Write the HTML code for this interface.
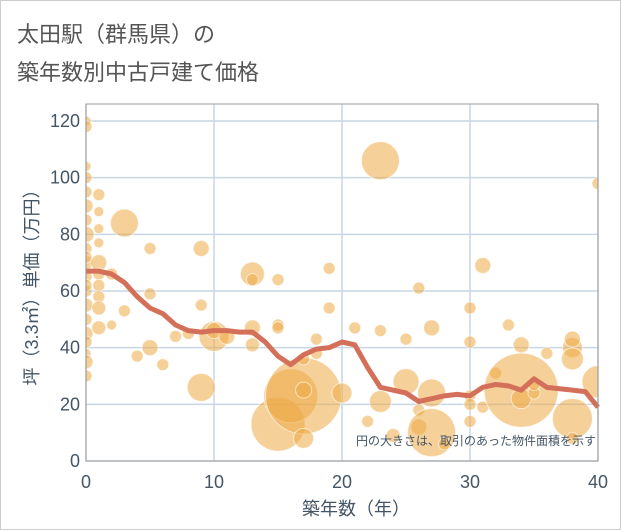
<!DOCTYPE html>
<html><head><meta charset="utf-8"><style>
body{margin:0;background:#fff;font-family:"Liberation Sans","Noto Sans CJK JP",sans-serif;}
#wrap{position:relative;width:619px;height:528px;border:1px solid #ccc;background:#fff;}
.t{position:absolute;left:16px;color:#555;font-size:22px;}
svg text{font-family:"Liberation Sans","Noto Sans CJK JP",sans-serif;}
</style></head><body>
<div id="wrap">
<div class="t" style="top:16px">太田駅（群馬県）の</div>
<div class="t" style="top:54px">築年数別中古戸建て価格</div>
<svg id="c" width="621" height="530" style="position:absolute;left:0;top:0"></svg>
</div>
<script>
const xTicks=[0,10,20,30,40];
const yTicks=[0,20,40,60,80,100,120];
const lineAges=[0,1,2,3,4,5,6,7,8,9,10,11,12,13,14,15,16,17,18,19,20,21,22,23,24,25,26,27,28,29,30,31,32,33,34,35,36,37,38,39,40];
const linePrices=[67,67,66,63,58,54,52,48,46,45.5,46,46,45.5,45.5,42,37,34,37.5,39.5,40,42,41,33,26,25,24,21,22,23,23.5,23,26,27,26.5,25,29,26,25.5,25,24.5,19];
const bubX=[0,0,0,0,0,0,0,0,0,0,0,0,0,0,0,0,0,0,0,0,0, 1,1,1,1,1,1,1,1,1,1, 2,2, 3,3, 4, 5,5,5, 6, 7, 8, 9,9,9, 10,10, 11, 13,13,13,13, 15,15,15, 15,16,17, 17,17,17, 18,18, 19,19, 20, 21, 22, 23,23,23, 24, 25,25, 26,26,26, 27,27,27, 28, 30,30,30,30,30, 31,31, 32, 33, 34,34,34, 35,35, 36, 38,38,38,38,38, 40,40];
const bubY=[120,118,104,100,95,90,85,80,75,70,65,60,55,50,45,42,38,35,30,62,72, 94,88,82,77,70,66,62,58,54,47, 66,48, 84,53, 37, 75,59,40, 34, 44, 45, 75,55,26, 44,46, 44, 66,64,47,41, 64,48,47, 13,23,23, 8,36,25, 43,38, 68,54, 24, 47, 14, 106,46,21, 9, 43,28, 61,12,18, 47,24,10, 6, 54,42,23,20,14, 69,19, 31, 48, 41,25,22, 24,27, 38, 40,43,36,15,8, 98,28];
const bubR=[5,6,5,6,6,7,6,8,6,7,6,6,7,6,7,6,5,7,6,6,6, 6,5,5,5,8,6,6,6,7,7, 6,5, 14,6, 6, 6,6,8, 6, 6, 6, 8,6,14, 15,8, 8, 12,6,8,7, 6,6,6, 27,27,38, 10,6,8, 6,6, 6,6, 10, 6, 6, 19,6,11, 7, 6,13, 6,8,6, 8,14,24, 6, 6,6,6,6,6, 8,6, 6, 6, 8,37,10, 6,6, 6, 10,8,11,20,6, 6,16];
const X0=85,X1=597,Y0=460,Y1=120;
const sx=v=>X0+(X1-X0)*v/40, sy=v=>Y0-(Y0-Y1)*v/120;
const svg=document.getElementById('c'),NS='http://www.w3.org/2000/svg';
function mk(t,a){const e=document.createElementNS(NS,t);for(const k in a)e.setAttribute(k,a[k]);svg.appendChild(e);return e;}
const cp=mk('clipPath',{id:'cp'});
const cr=document.createElementNS(NS,'rect');cr.setAttribute('x',X0);cr.setAttribute('y',103);cr.setAttribute('width',X1-X0);cr.setAttribute('height',Y0-103);cp.appendChild(cr);
let e;
yTicks.forEach(v=>{
e=mk('line',{x1:X0,x2:X1,y1:sy(v),y2:sy(v),stroke:'#c8d6e4','stroke-width':1.5});


e=mk('text',{x:79,y:sy(v)+6,'text-anchor':'end','font-size':18,fill:'#445566'});e.textContent=v;


});
xTicks.forEach(v=>{
e=mk('line',{x1:sx(v),x2:sx(v),y1:103,y2:Y0,stroke:'#c8d6e4','stroke-width':1.5});


e=mk('text',{x:sx(v),y:487,'text-anchor':'middle','font-size':18,fill:'#445566'});e.textContent=v;


});
const g=mk('g',{'clip-path':'url(#cp)'});
bubX.forEach((x,i)=>{
const c=document.createElementNS(NS,'circle');
c.setAttribute('cx',sx(x));c.setAttribute('cy',sy(bubY[i]));c.setAttribute('r',bubR[i]||6);
c.setAttribute('fill','rgba(236,170,70,0.55)');c.setAttribute('stroke','rgba(255,255,255,0.6)');


g.appendChild(c);
});
e=mk('polyline',{points:lineAges.map((a,i)=>sx(a)+','+sy(linePrices[i])).join(' '),fill:'none',stroke:'#d4705a','stroke-width':5,'stroke-linejoin':'round'});


e=mk('rect',{x:X0,y:103,width:X1-X0,height:Y0-103,fill:'none',stroke:'#999','stroke-width':1});


e=mk('text',{x:595,y:444,'text-anchor':'end','font-size':12,fill:'#445566'});e.textContent='円の大きさは、取引のあった物件面積を示す';


e=mk('text',{x:355,y:514,'text-anchor':'middle','font-size':18,fill:'#445566'});e.textContent='築年数（年）';


e=mk('text',{x:0,y:0,'text-anchor':'middle','font-size':18,fill:'#445566',transform:'translate(37,282) rotate(-90)'});e.textContent='坪（3.3㎡）単価（万円）';


</script>
</body></html>
